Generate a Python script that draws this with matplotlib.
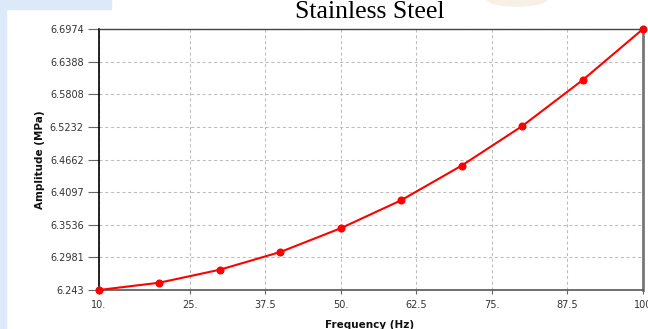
import matplotlib
matplotlib.use('Agg')
from matplotlib import pyplot as plt
from matplotlib.patches import Rectangle, Ellipse
from matplotlib.ticker import FixedLocator, NullLocator

# frecuencia (Hz) y amplitud (MPa) del acero inoxidable
frecuencias = [10, 20, 30, 40, 50, 60, 70, 80, 90, 100]
amplitudes = [6.243, 6.2553, 6.2772, 6.3072, 6.3477, 6.3957, 6.4556, 6.5245, 6.6058, 6.6974]

ticks_x = [10, 25, 37.5, 50, 62.5, 75, 87.5, 100]
etiquetas_x = ['10.', '25.', '37.5', '50.', '62.5', '75.', '87.5', '100']
ticks_y = [6.243, 6.2981, 6.3536, 6.4097, 6.4662, 6.5232, 6.5808, 6.6388, 6.6974]
etiquetas_y = ['6.243', '6.2981', '6.3536', '6.4097', '6.4662', '6.5232', '6.5808', '6.6388', '6.6974']

fig = plt.figure(figsize=(6.48, 3.29), dpi=100)
fig.patch.set_facecolor('white')

# fondo azul claro detrás del panel
azul = '#dce9f9'
fig.add_artist(Rectangle((0, 0), 6 / 648, 1, transform=fig.transFigure, color=azul, zorder=-5))
fig.add_artist(Rectangle((0, 1 - 9 / 329), 111 / 648, 9 / 329, transform=fig.transFigure, color=azul, zorder=-5))
fig.add_artist(Ellipse((517 / 648, 1 + 1 / 329), 60 / 648, 14 / 329, transform=fig.transFigure,
                       color='#f7f0e4', zorder=-5))

ax = fig.add_axes([99 / 648, 39 / 329, 544 / 648, 261 / 329])
ax.plot(frecuencias, amplitudes, color='#ff0000', linewidth=1.5, marker='o', markersize=4.8,
        clip_on=False, zorder=5)

ax.set_yscale('log')
ax.set_xlim(10, 100)
ax.set_ylim(6.243, 6.6974)
ax.xaxis.set_major_locator(FixedLocator(ticks_x))
ax.set_xticklabels(etiquetas_x)
ax.yaxis.set_major_locator(FixedLocator(ticks_y))
ax.yaxis.set_minor_locator(NullLocator())
ax.set_yticklabels(etiquetas_y)

ax.tick_params(axis='both', labelsize=7, colors='#666666', labelcolor='#333333')
ax.tick_params(axis='y', length=8, width=0.8, pad=3)
ax.tick_params(axis='x', length=3, width=0.8, pad=4)

ax.grid(True, color='#bdbdbd', linestyle=(0, (3, 2.5)), linewidth=0.75)

ax.spines['left'].set_color('black')
ax.spines['left'].set_linewidth(1.2)
ax.spines['bottom'].set_color('#555555')
ax.spines['bottom'].set_linewidth(1.2)
ax.spines['top'].set_color('#444444')
ax.spines['top'].set_linewidth(1.0)
ax.spines['right'].set_color('#777777')
ax.spines['right'].set_linewidth(2.0)

fig.text(370 / 648, 1 - 12 / 329, 'Stainless Steel', ha='center', va='center',
         family='Liberation Serif', fontsize=18.5, color='black')
fig.text(370 / 648, 1 - 325 / 329, 'Frequency (Hz)', ha='center', va='center',
         fontsize=7.5, fontweight='bold', color='#111111')
fig.text(40 / 648, 1 - 160 / 329, 'Amplitude (MPa)', ha='center', va='center', rotation=90,
         fontsize=7.5, fontweight='bold', color='#111111')

fig.savefig('out.png', dpi=100)
